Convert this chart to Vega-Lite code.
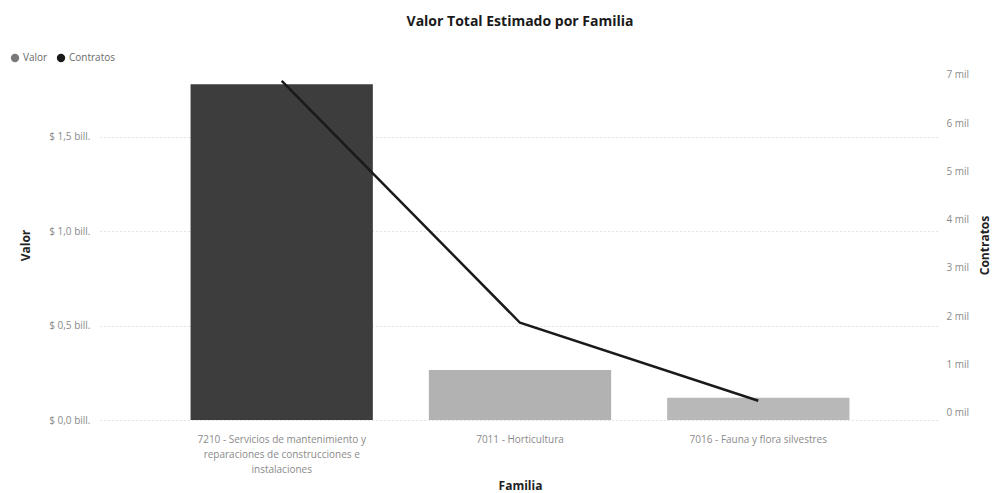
{
  "$schema": "https://vega.github.io/schema/vega-lite/v6.json",
  "width": 840,
  "height": 350,
  "autosize": {"type": "none"},
  "padding": {"left": 100, "top": 70, "right": 65, "bottom": 73},
  "background": "#ffffff",
  "title": {
    "text": "Valor Total Estimado por Familia",
    "font": "Open Sans",
    "fontSize": 14,
    "fontWeight": "bold",
    "color": "#1a1a1a",
    "anchor": "middle",
    "offset": 24
  },
  "config": {
    "view": {"stroke": null},
    "font": "Open Sans"
  },
  "data": {
    "values": [
      {"Familia": "7210 - Servicios de mantenimiento y reparaciones de construcciones e instalaciones", "Valor": 1780000000000, "Contratos": 6875},
      {"Familia": "7011 - Horticultura", "Valor": 265000000000, "Contratos": 1864},
      {"Familia": "7016 - Fauna y flora silvestres", "Valor": 118000000000, "Contratos": 248}
    ]
  },
  "encoding": {
    "x": {
      "field": "Familia",
      "type": "nominal",
      "sort": null,
      "scale": {"paddingInner": 0.235, "paddingOuter": 0.38},
      "axis": {
        "title": "Familia",
        "titleFont": "Open Sans",
        "titleFontSize": 12,
        "titleFontWeight": "bold",
        "titleColor": "#222222",
        "titlePadding": 6,
        "labelAngle": 0,
        "labelFont": "Open Sans",
        "labelFontSize": 10,
        "labelColor": "#8a8a8a",
        "labelPadding": 14,
        "labelLimit": 300,
        "labelLineHeight": 15,
        "labelExpr": "indexof(datum.label, '7210') == 0 ? ['7210 - Servicios de mantenimiento y', 'reparaciones de construcciones e', 'instalaciones'] : datum.label",
        "ticks": false,
        "domain": false,
        "grid": false
      }
    }
  },
  "layer": [
    {
      "mark": {"type": "bar"},
      "encoding": {
        "y": {
          "field": "Valor",
          "type": "quantitative",
          "scale": {"domain": [0, 1855000000000], "nice": false, "zero": false},
          "axis": {
            "title": "Valor",
            "titleFont": "Open Sans",
            "titleFontSize": 12,
            "titleFontWeight": "bold",
            "titleColor": "#222222",
            "titlePadding": 16,
            "values": [0, 500000000000, 1000000000000, 1500000000000],
            "labelExpr": "'$ ' + replace(format(datum.value / 1e12, '.1f'), '.', ',') + ' bill.'",
            "labelFont": "Open Sans",
            "labelFontSize": 10,
            "labelColor": "#8a8a8a",
            "labelPadding": 10,
            "ticks": false,
            "domain": false,
            "grid": true,
            "gridColor": "#c8c8c8",
            "gridDash": [1, 3],
            "gridWidth": 1
          }
        },
        "fill": {
          "field": "Familia",
          "type": "nominal",
          "sort": null,
          "scale": {"range": ["#3d3d3d", "#b2b2b2", "#b8b8b8"]},
          "legend": null
        }
      }
    },
    {
      "mark": {"type": "line", "strokeWidth": 2.5},
      "encoding": {
        "y": {
          "field": "Contratos",
          "type": "quantitative",
          "scale": {"domain": [-150, 7100], "nice": false, "zero": false},
          "axis": {
            "title": "Contratos",
            "orient": "right",
            "titleAngle": 270,
            "titleBaseline": "top",
            "titleFont": "Open Sans",
            "titleFontSize": 12,
            "titleFontWeight": "bold",
            "titleColor": "#222222",
            "titlePadding": 11,
            "values": [0, 1000, 2000, 3000, 4000, 5000, 6000, 7000],
            "labelExpr": "format(datum.value / 1000, 'd') + ' mil'",
            "labelFont": "Open Sans",
            "labelFontSize": 10,
            "labelColor": "#8a8a8a",
            "labelPadding": 6,
            "ticks": false,
            "domain": false,
            "grid": false
          }
        },
        "color": {
          "datum": "Contratos",
          "type": "nominal",
          "scale": {"domain": ["Valor", "Contratos"], "range": ["#7a7a7a", "#1a1a1a"]},
          "legend": {
            "title": null,
            "orient": "none",
            "legendX": -90,
            "legendY": -17,
            "direction": "horizontal",
            "symbolType": "circle",
            "symbolSize": 70,
            "symbolStrokeWidth": 0,
            "labelFont": "Open Sans",
            "labelFontSize": 10,
            "labelColor": "#6a6a6a",
            "columnPadding": 8,
            "labelOffset": 3,
            "encode": {
              "symbols": {"update": {"fill": {"scale": "color", "field": "value"}, "strokeWidth": {"value": 0}}}
            }
          }
        }
      }
    }
  ],
  "resolve": {"scale": {"y": "independent"}}
}
